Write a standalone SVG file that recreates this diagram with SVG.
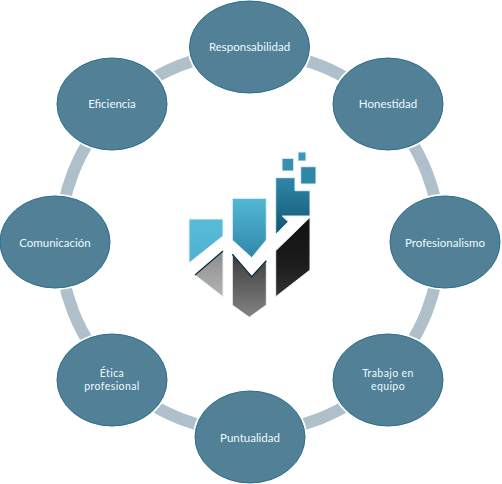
<svg xmlns="http://www.w3.org/2000/svg" width="502" height="484" viewBox="0 0 502 484">
<style>
.n{fill:#518097;stroke:#2b6f8d;stroke-width:1}
.h{fill:none;stroke:#fff;stroke-width:3}
.t{font-family:"Lato","Open Sans",sans-serif;font-size:11.5px;fill:#eefaff;text-anchor:middle}
.w{font-size:10.5px;letter-spacing:.4px}
.e{stroke:#e8f3f7;stroke-width:1}
</style>
<defs>
<linearGradient id="a" x1="0" y1="0" x2="0" y2="1"><stop offset="0" stop-color="#58bcd8"/><stop offset="1" stop-color="#4fb0cf"/></linearGradient>
<linearGradient id="b" x1="0" y1="0" x2="0" y2="1"><stop offset="0" stop-color="#54b8d4"/><stop offset="1" stop-color="#2f87ab"/></linearGradient>
<linearGradient id="c" x1="0" y1="0" x2="0" y2="1"><stop offset="0" stop-color="#2f87a8"/><stop offset="1" stop-color="#125673"/></linearGradient>
<linearGradient id="d" x1="0" y1="0" x2="0" y2="1"><stop offset="0" stop-color="#111"/><stop offset=".6" stop-color="#1c1c1c"/><stop offset="1" stop-color="#333"/></linearGradient>
<linearGradient id="f" x1="0" y1="0" x2="0" y2="1"><stop offset="0" stop-color="#3c3c3c"/><stop offset="1" stop-color="#838383"/></linearGradient>
<linearGradient id="g" x1="0" y1="0" x2="0" y2="1"><stop offset="0" stop-color="#8c8c8c"/><stop offset="1" stop-color="#b4b4b4"/></linearGradient>
</defs>
<rect width="502" height="484" fill="#fff"/>
<g id="connectors"><circle cx="250" cy="242" r="190" fill="none" stroke="#b0c0ca" stroke-width="12"/></g>
<g id="logo">
<path class="e" fill="url(#a)" d="M189 219H223V236L189 263Z"/>
<path class="e" fill="url(#b)" d="M232.300 198.300H266.300V240L251.700 257.700L232.300 240Z"/>
<path class="e" fill="url(#c)" d="M275.700 177.700H295V190.700H310V216H282.300L288.300 221.700L275.700 234.300Z"/>
<path class="e" fill="url(#d)" d="M310 217.300V270L275.700 296.700V250.700Z"/>
<path class="e" fill="url(#f)" d="M232.300 254.300L251.700 276.700L266.300 260.700V305L249.300 317.300L232.300 305Z"/>
<path class="e" fill="url(#g)" d="M223 251V296.700L195 275Z"/>
<path fill="none" stroke="#0d2c40" stroke-width="1.300" d="M195 275L223 251M232.300 254.300L251.700 276.700L266.300 260.700"/>
<rect class="e" x="282" y="158.300" width="11.700" height="12.700" fill="#3a8fae"/>
<rect class="e" x="298" y="152" width="8" height="9" fill="#3b9abb"/>
<rect class="e" x="300.700" y="166.700" width="15.300" height="17.300" fill="#2f87a8"/>
</g>
<g id="responsabilidad"><ellipse class="h" cx="249.500" cy="47" rx="60.500" ry="46.500"/><ellipse class="n" cx="249.500" cy="47" rx="60" ry="46"/><text class="t" x="249.500" y="51">Responsabilidad</text></g>
<g id="honestidad"><ellipse class="h" cx="388" cy="104" rx="55.500" ry="46.500"/><ellipse class="n" cx="388" cy="104" rx="55" ry="46"/><text class="t" x="388" y="108">Honestidad</text></g>
<g id="profesionalismo"><ellipse class="h" cx="445" cy="242" rx="55.500" ry="46.500"/><ellipse class="n" cx="445" cy="242" rx="55" ry="46"/><text class="t" x="445" y="247">Profesionalismo</text></g>
<g id="trabajo"><ellipse class="h" cx="388" cy="380" rx="55.500" ry="46.500"/><ellipse class="n" cx="388" cy="380" rx="55" ry="46"/><text class="t w"><tspan x="388" y="376.500">Trabajo en</tspan><tspan x="388" y="390">equipo</tspan></text></g>
<g id="puntualidad"><ellipse class="h" cx="250" cy="437" rx="55.500" ry="46.500"/><ellipse class="n" cx="250" cy="437" rx="55" ry="46"/><text class="t" x="250" y="442">Puntualidad</text></g>
<g id="etica"><ellipse class="h" cx="112" cy="380" rx="55.500" ry="46.500"/><ellipse class="n" cx="112" cy="380" rx="55" ry="46"/><text class="t w"><tspan x="112" y="376.500">Ética</tspan><tspan x="112" y="390">profesional</tspan></text></g>
<g id="comunicacion"><ellipse class="h" cx="55" cy="242" rx="55.500" ry="46.500"/><ellipse class="n" cx="55" cy="242" rx="55" ry="46"/><text class="t" x="55" y="247">Comunicación</text></g>
<g id="eficiencia"><ellipse class="h" cx="112" cy="104" rx="55.500" ry="46.500"/><ellipse class="n" cx="112" cy="104" rx="55" ry="46"/><text class="t" x="112" y="108">Eficiencia</text></g>
</svg>
